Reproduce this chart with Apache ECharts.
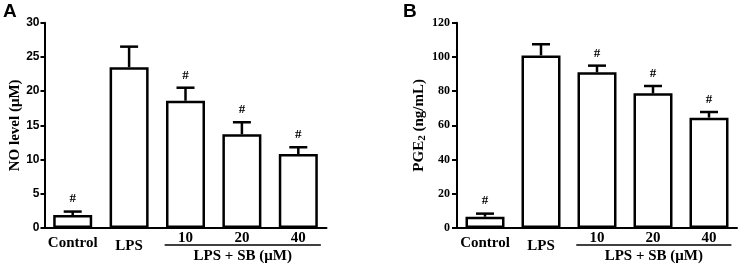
<!DOCTYPE html>
<html>
<head>
<meta charset="utf-8">
<script src="https://cdn.jsdelivr.net/npm/echarts@6/dist/echarts.min.js"></script>
<style>
html,body{margin:0;padding:0;background:#fff;}
#c{width:740px;height:266px;}
</style>
</head>
<body>
<div id="c"></div>
<script>
const categories = ['Control', 'LPS', '10', '20', '40'];
const noMean = [1.9, 23.5, 18.6, 13.7, 10.8];
const noErr = [0.5, 3.0, 1.9, 1.75, 1.0];
const pgeMean = [6.6, 100.9, 91.0, 78.7, 64.5];
const pgeErr = [1.8, 6.5, 3.9, 4.3, 3.3];
const sigMarks = ['#', '', '#', '#', '#'];
const noTicks = [0, 30, 5];
const pgeTicks = [0, 120, 20];

const serif = '"Liberation Serif","Times New Roman",serif';
const sans = '"Liberation Sans",Arial,sans-serif';

const chart = echarts.init(document.getElementById('c'), null, {renderer: 'canvas'});

function xAxisDef(gi) {
  return {
    type: 'category', gridIndex: gi, data: categories,
    axisLine: {lineStyle: {color: '#000', width: 2}},
    axisTick: {show: false},
    axisLabel: {
      margin: 3, interval: 0,
      formatter: v => v === 'Control' ? '{c|' + v + '}' : (v === 'LPS' ? '{l|' + v + '}' : '{n|' + v + '}'),
      rich: {
        c: {fontFamily: serif, fontWeight: 'bold', fontSize: 15, color: '#000', padding: [5, 0, 0, 0]},
        l: {fontFamily: serif, fontWeight: 'bold', fontSize: 15, color: '#000', padding: [8, 0, 0, 0]},
        n: {fontFamily: serif, fontWeight: 'bold', fontSize: 15, color: '#000', padding: [0, 0, 0, 0]}
      }
    }
  };
}

function errSeries(gi, means, errs) {
  return {
    type: 'custom', xAxisIndex: gi, yAxisIndex: gi, z: 5,
    data: means.map((m, i) => [i, m, errs[i]]),
    renderItem: function (params, api) {
      const i = api.value(0), m = api.value(1), e = api.value(2);
      const p0 = api.coord([i, m]);
      const p1 = api.coord([i, m + e]);
      const hw = 9;
      const children = [
        {type: 'line', shape: {x1: p0[0], y1: p0[1], x2: p1[0], y2: p1[1]}, style: {stroke: '#000', lineWidth: 2.5}},
        {type: 'line', shape: {x1: p1[0] - hw, y1: p1[1], x2: p1[0] + hw, y2: p1[1]}, style: {stroke: '#000', lineWidth: 2.5}}
      ];
      if (sigMarks[i]) {
        children.push({type: 'text', style: {text: sigMarks[i], x: p1[0], y: p1[1] - 6, align: 'center', verticalAlign: 'bottom',
          font: 'bold 13px ' + serif, fill: '#000'}});
      }
      return {type: 'group', children: children};
    }
  };
}

function barSeries(gi, means) {
  return {
    type: 'bar', xAxisIndex: gi, yAxisIndex: gi, data: means, barWidth: 39,
    itemStyle: {color: '#fff', borderColor: '#000', borderWidth: 2.5},
    z: 3
  };
}

const option = {
  backgroundColor: '#fff',
  animation: false,
  grid: [
    {left: 44.5, width: 282, top: 22.7, bottom: 38, containLabel: false},
    {left: 457, width: 280, top: 22.7, bottom: 38, containLabel: false}
  ],
  xAxis: [xAxisDef(0), xAxisDef(1)],
  yAxis: [
    {
      type: 'value', gridIndex: 0, min: noTicks[0], max: noTicks[1], interval: noTicks[2],
      name: 'NO level (μM)', nameLocation: 'middle', nameGap: 20,
      nameTextStyle: {fontFamily: serif, fontWeight: 'bold', fontSize: 15, color: '#000'},
      splitLine: {show: false},
      axisLine: {show: true, lineStyle: {color: '#000', width: 2}},
      axisTick: {show: true, length: 4, lineStyle: {color: '#000', width: 2}},
      axisLabel: {margin: 5, fontFamily: sans, fontWeight: 'bold', fontSize: 12, color: '#000'}
    },
    {
      type: 'value', gridIndex: 1, min: pgeTicks[0], max: pgeTicks[1], interval: pgeTicks[2],
      name: '{a|PGE}{s|2}{a| (ng/mL)}', nameLocation: 'middle', nameGap: 29,
      nameTextStyle: {
        rich: {
          a: {fontFamily: serif, fontWeight: 'bold', fontSize: 15, color: '#000'},
          s: {fontFamily: serif, fontWeight: 'bold', fontSize: 11, color: '#000', padding: [6, 0, 0, 0]}
        }
      },
      splitLine: {show: false},
      axisLine: {show: true, lineStyle: {color: '#000', width: 2}},
      axisTick: {show: true, length: 5, lineStyle: {color: '#000', width: 2}},
      axisLabel: {margin: 7, fontFamily: serif, fontWeight: 'bold', fontSize: 12, color: '#000'}
    }
  ],
  series: [
    barSeries(0, noMean), errSeries(0, noMean, noErr),
    barSeries(1, pgeMean), errSeries(1, pgeMean, pgeErr)
  ]
};
chart.setOption(option);

// bracket under the LPS + SB groups and panel letters
const graphics = [
  {type: 'text', left: 3, top: 2, style: {text: 'A', font: 'bold 19px ' + sans, fill: '#000'}},
  {type: 'text', left: 403, top: 2, style: {text: 'B', font: 'bold 19px ' + sans, fill: '#000'}}
];
[0, 1].forEach(gi => {
  const a = chart.convertToPixel({xAxisIndex: gi, yAxisIndex: gi}, [2, 0]);
  const b = chart.convertToPixel({xAxisIndex: gi, yAxisIndex: gi}, [4, 0]);
  const band = (b[0] - a[0]) / 2;
  const x1 = a[0] - band * 0.37, x2 = b[0] + band * 0.40;
  const y = a[1] + 17;
  graphics.push({type: 'line', shape: {x1: x1, y1: y, x2: x2, y2: y}, style: {stroke: '#000', lineWidth: 1.5}});
  graphics.push({type: 'text', x: (x1 + x2) / 2, y: y + 4,
    style: {text: 'LPS + SB (μM)', font: 'bold 15px ' + serif, fill: '#000', align: 'center', verticalAlign: 'top'}});
});
chart.setOption({graphic: graphics});
</script>
</body>
</html>
